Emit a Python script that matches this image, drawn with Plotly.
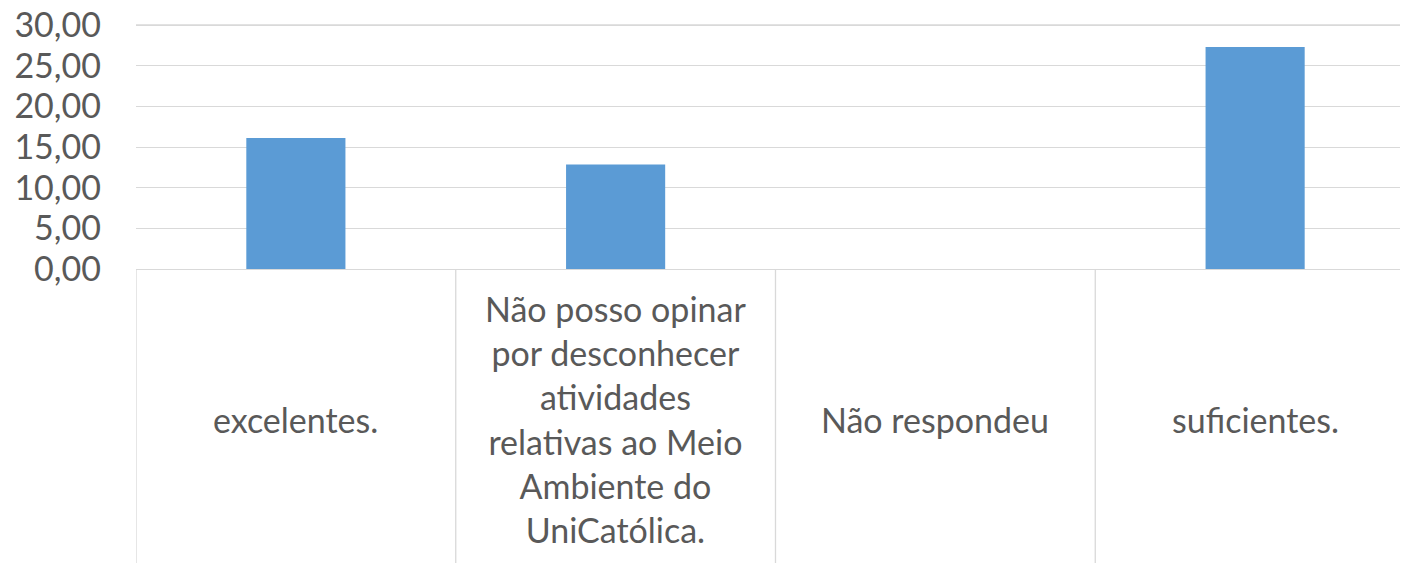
import plotly.graph_objects as go

categories = [
    "excelentes.",
    "Não posso opinar por desconhecer atividades relativas ao Meio Ambiente do UniCatólica.",
    "Não respondeu",
    "suficientes.",
]
wrapped_labels = [
    "excelentes.",
    "Não posso opinar<br>por desconhecer<br>atividades<br>relativas ao Meio<br>Ambiente do<br>UniCatólica.",
    "Não respondeu",
    "suficientes.",
]
values = [16.1, 12.85, 0.0, 27.3]
y_ticks = [0, 5, 10, 15, 20, 25, 30]

# the page body has an 8px margin; the figure is sized so that it fills the window exactly
OFF = 8
W, H = 1408 - OFF, 563 - OFF
ML, MR, MT, MB = 136 - OFF, 0, 22 - OFF, 294
plot_h = H - MT - MB

text_color = "#595959"
grid_color = "#D9D9D9"
font_family = "Lato, 'Open Sans', sans-serif"

fig = go.Figure(
    go.Bar(
        x=categories,
        y=values,
        marker=dict(color="#5B9BD5", line=dict(width=0)),
        hoverinfo="x+y",
    )
)

n = len(categories)
shapes = []
for i in range(n + 1):
    shapes.append(dict(
        type="line", xref="x", yref="paper",
        x0=i - 0.5, x1=i - 0.5, y0=0, y1=-(MB + 10) / plot_h,
        line=dict(color=grid_color, width=1.3),
    ))
# top gridline (max tick) drawn explicitly so it is not dropped at the plot edge
shapes.append(dict(
    type="line", xref="paper", yref="y",
    x0=0, x1=1, y0=max(y_ticks), y1=max(y_ticks),
    line=dict(color=grid_color, width=1.3), layer="below",
))

annotations = []
label_center_px = 419 - OFF
for i, lab in enumerate(wrapped_labels):
    annotations.append(dict(
        x=categories[i], xref="x",
        y=-(label_center_px - (H - MB)) / plot_h, yref="paper",
        text=lab, showarrow=False,
        xanchor="center", yanchor="middle", align="center",
        font=dict(family=font_family, size=34, color=text_color),
    ))

fig.update_layout(
    width=W, height=H,
    margin=dict(l=ML, r=MR, t=MT, b=MB, pad=0, autoexpand=False),
    paper_bgcolor="white", plot_bgcolor="white",
    bargap=0.69,
    showlegend=False,
    separators=",.",
    shapes=shapes,
    annotations=annotations,
    font=dict(family=font_family, size=34, color=text_color),
)
fig.update_xaxes(
    range=[-0.5, n - 0.5 - (1415 - 1408) / 320],
    showticklabels=False, showgrid=False, zeroline=False,
    showline=False, ticks="",
    automargin=False,
    fixedrange=True,
)
fig.update_yaxes(
    range=[0, 30.37],
    tickvals=y_ticks, tickformat=".2f",
    showgrid=True, gridcolor=grid_color, gridwidth=1.3,
    zeroline=True, zerolinecolor=grid_color, zerolinewidth=1.3,
    showline=False, ticks="",
    ticklabelstandoff=34,
    ticklabeloverflow="allow",
    automargin=False,
    tickfont=dict(family=font_family, size=34, color=text_color),
    fixedrange=True,
)

fig.write_html("out.html", config={"displayModeBar": False})
